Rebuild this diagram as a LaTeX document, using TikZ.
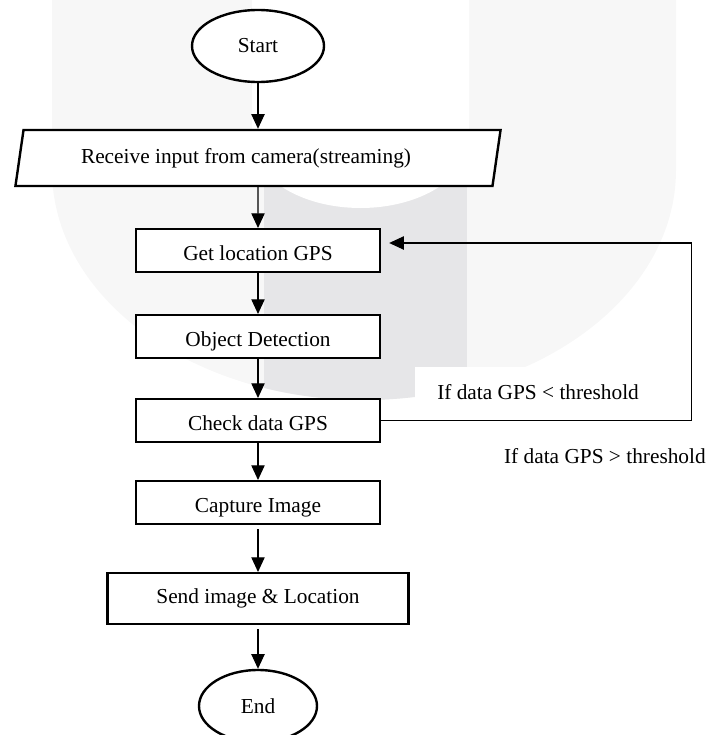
\documentclass[tikz,border=0pt]{standalone}
\usepackage{fontspec}
\setmainfont{Liberation Serif}
\usetikzlibrary{shapes.geometric,arrows.meta}
\definecolor{wmlight}{HTML}{F7F7F7}
\definecolor{wmdark}{HTML}{E6E6E8}

\begin{document}
\begin{tikzpicture}[x=0.75pt,y=-0.75pt,>={Triangle[length=11pt,width=10pt]},
    font=\fontsize{16}{19}\selectfont,
    box/.style={draw,line width=1.8pt,fill=white,minimum width=183pt,minimum height=32pt,inner sep=0pt},
    low/.style={text height=15pt,text depth=0pt},
    term/.style={ellipse,draw,line width=1.8pt,fill=white,minimum width=99pt,minimum height=54pt,inner sep=0pt},
    io/.style={trapezium,trapezium left angle=75,trapezium right angle=105,trapezium stretches=true,
        draw,line width=1.8pt,fill=white,minimum width=364pt,minimum height=42pt,inner sep=0pt},
    arr/.style={->,line width=0.8pt}]
        \useasboundingbox (0,0) rectangle (707,735);
        % watermark in the back
        \fill[wmlight] (52,0) -- (52,170) arc[start angle=180,end angle=360,x radius=234pt,y radius=172.5pt] -- (676,0) -- cycle;
        \begin{scope}
            \clip (52,0) -- (52,170) arc[start angle=180,end angle=360,x radius=234pt,y radius=172.5pt] -- (676,0) -- cycle;
            \fill[wmdark] (264,0) rectangle (467,420);
        \end{scope}
        \fill[white] (252,0) -- (252,140) arc[start angle=180,end angle=360,x radius=81.4pt,y radius=51pt] -- (469,0) -- cycle;
        % flow
        \node[term] (start) at (258,46) {Start};
        \node[io] (recv) at (258,158) {\hspace*{-18pt}Receive input from camera(streaming)};
        \node[box,low] (gps) at (258,250.5) {Get location GPS};
        \node[box,low] (detect) at (258,336.5) {Object Detection};
        \node[box,low] (check) at (258,420.5) {Check data GPS};
        \node[box,low] (capture) at (258,502.5) {Capture Image};
        \node[box,minimum width=225.75pt,minimum height=38pt] (send) at (258,598.5) {Send image \& Location};
        \node[term,minimum width=88.5pt] (stop) at (258,706) {End};
        \draw[arr] (start) -- (recv);
        \draw[arr] (recv) -- (gps);
        \draw[arr] (gps) -- (detect);
        \draw[arr] (detect) -- (check);
        \draw[arr] (check) -- (capture);
        \draw[arr,shorten <=3pt] (capture) -- (send);
        \draw[arr,shorten <=3pt] (send) -- (stop);
        % loop back
        \fill[white] (415,367) rectangle (688,417);
        \node[anchor=west,inner sep=0pt] (less) at (437,392) {If data GPS < threshold};
        \draw[arr] (check.east) -- ++(310,0) |- ([shift={(8,-7.5)}]gps.east);
        \node[anchor=east,inner sep=0pt] (more) at (706,456) {If data GPS > threshold};
\end{tikzpicture}
\end{document}
